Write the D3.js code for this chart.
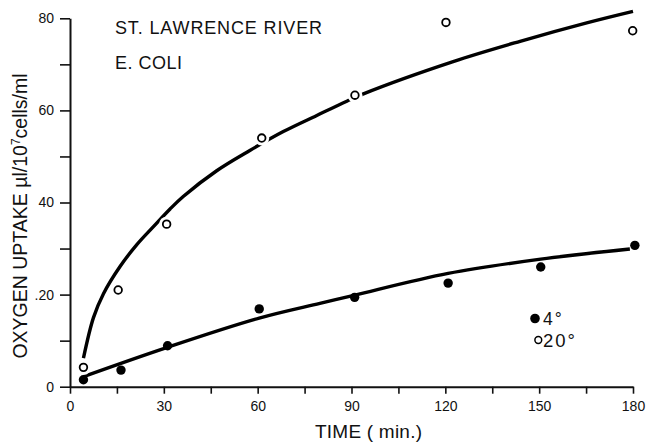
<!DOCTYPE html>
<html>
<head>
<meta charset="utf-8">
<script src="https://cdn.jsdelivr.net/npm/d3@7"></script>
<style>
  body { margin: 0; background: #fff; }
  svg { display: block; font-family: "Liberation Sans", Arial, Helvetica, sans-serif; }
</style>
</head>
<body>
<svg id="chart" width="648" height="444"></svg>
<script>
// ---- data ----
const xTickValues = [0, 15, 30, 45, 60, 75, 90, 105, 120, 135, 150, 165, 180];
const xTickLabels = {0: "0", 30: "30", 60: "60", 90: "90", 120: "120", 150: "150", 180: "180"};
const yTickValues = [0, 10, 20, 30, 40, 50, 60, 70, 80];
const yTickLabels = {0: "0", 20: ".20", 40: "40", 60: "60", 80: "80"};

// 20° observations (open circles)
const warmTime = [4.3, 15.4, 30.9, 61.3, 91.1, 120.2, 179.9];
const warmUptake = [4.2, 21.0, 35.3, 54.0, 63.3, 79.1, 77.3];
// 4° observations (filled circles)
const coldTime = [4.3, 16.3, 31.2, 60.5, 91.0, 120.9, 150.5, 180.6];
const coldUptake = [1.5, 3.6, 8.9, 16.9, 19.4, 22.5, 26.0, 30.7];

// fitted curves
const warmCurveTime = [4.3, 7.5, 10.7, 16.0, 21.3, 26.6, 32.0, 36.2, 46.9, 57.5, 68.2, 78.9, 88.5, 93.8, 122.5, 143.9, 165.2, 180];
const warmCurveUptake = [6.2, 15.0, 20.2, 26.1, 30.8, 34.7, 38.6, 41.3, 46.9, 51.3, 55.4, 58.9, 62.0, 63.6, 70.6, 75.0, 79.0, 81.5];
const coldCurveTime = [4.3, 30.9, 60.5, 79.9, 91.1, 120.9, 150.5, 179.0];
const coldCurveUptake = [2.2, 8.5, 14.9, 18.1, 19.9, 24.6, 27.7, 29.9];

const titleLines = ["ST. LAWRENCE RIVER", "E. COLI"];
const legendLabels = ["4°", "20°"];

// ---- layout ----
const svg = d3.select("#chart");
const x = d3.scaleLinear().domain([0, 180]).range([70, 633]);
const y = d3.scaleLinear().domain([0, 80]).range([386.7, 18.3]);

// axes
const yAxis = d3.axisLeft(y).tickValues(yTickValues)
  .tickFormat(d => yTickLabels[d] || "").tickSize(10).tickSizeOuter(0).tickPadding(6);
const gy = svg.append("g").attr("transform", `translate(${x(0)},0)`).call(yAxis);
gy.select(".domain").attr("stroke", "#111").attr("stroke-width", 2);
gy.selectAll(".tick line").attr("stroke", "#111").attr("stroke-width", 1.6);
gy.selectAll(".tick text").attr("font-size", 14).attr("fill", "#111")
  .attr("font-family", "Liberation Sans, Arial, sans-serif");

const xAxis = d3.axisBottom(x).tickValues(xTickValues)
  .tickFormat(d => xTickLabels[d] || "").tickSize(7).tickSizeOuter(0).tickPadding(7);
const gx = svg.append("g").attr("transform", `translate(0,${y(0)})`).call(xAxis);
gx.select(".domain").attr("stroke", "#111").attr("stroke-width", 2);
gx.selectAll(".tick line").attr("stroke", "#111").attr("stroke-width", 1.6);
gx.selectAll(".tick text").attr("font-size", 14).attr("fill", "#111")
  .attr("font-family", "Liberation Sans, Arial, sans-serif");

// curves
const line = d3.line().x(d => x(d[0])).y(d => y(d[1])).curve(d3.curveCatmullRom.alpha(0.5));
const warmCurve = d3.zip(warmCurveTime, warmCurveUptake);
const coldCurve = d3.zip(coldCurveTime, coldCurveUptake);
svg.append("path").datum(warmCurve).attr("d", line)
  .attr("fill", "none").attr("stroke", "#000").attr("stroke-width", 3.4).attr("stroke-linecap", "butt");
svg.append("path").datum(coldCurve).attr("d", line)
  .attr("fill", "none").attr("stroke", "#000").attr("stroke-width", 3.4).attr("stroke-linecap", "butt");

// markers
const warm = d3.zip(warmTime, warmUptake);
const cold = d3.zip(coldTime, coldUptake);
svg.append("g").selectAll("circle.halo").data(warm).join("circle")
  .attr("cx", d => x(d[0])).attr("cy", d => y(d[1])).attr("r", 7.5).attr("fill", "#fff");
svg.append("g").selectAll("circle.open").data(warm).join("circle")
  .attr("cx", d => x(d[0])).attr("cy", d => y(d[1])).attr("r", 3.8)
  .attr("fill", "#fff").attr("stroke", "#000").attr("stroke-width", 1.8);
svg.append("g").selectAll("circle.fill").data(cold).join("circle")
  .attr("cx", d => x(d[0])).attr("cy", d => y(d[1])).attr("r", 4.7).attr("fill", "#000");

// title
svg.append("text").attr("x", 115).attr("y", 34).attr("font-size", 18)
  .attr("textLength", 207).attr("lengthAdjust", "spacing").attr("fill", "#111").text(titleLines[0]);
svg.append("text").attr("x", 115).attr("y", 69).attr("font-size", 18)
  .attr("textLength", 67).attr("lengthAdjust", "spacing").attr("fill", "#111").text(titleLines[1]);

// legend
svg.append("circle").attr("cx", 535).attr("cy", 318.5).attr("r", 4.8).attr("fill", "#000");
svg.append("text").attr("x", 543).attr("y", 324.5).attr("font-size", 17.5)
  .attr("letter-spacing", 2).attr("fill", "#111").text(legendLabels[0]);
svg.append("circle").attr("cx", 538.3).attr("cy", 340).attr("r", 3.4)
  .attr("fill", "#fff").attr("stroke", "#000").attr("stroke-width", 1.5);
svg.append("text").attr("x", 543).attr("y", 346.5).attr("font-size", 18.5)
  .attr("letter-spacing", 2).attr("fill", "#111").text(legendLabels[1]);

// axis titles
svg.append("text").attr("x", 315).attr("y", 438).attr("font-size", 19)
  .attr("textLength", 107).attr("lengthAdjust", "spacing").attr("fill", "#111").text("TIME ( min.)");

const yl = svg.append("text").attr("transform", "translate(27,216) rotate(-90)")
  .attr("text-anchor", "middle").attr("font-size", 19.5).attr("fill", "#111");
yl.append("tspan").text("OXYGEN UPTAKE µl/10");
yl.append("tspan").attr("dy", -7).attr("font-size", 12).text("7");
yl.append("tspan").attr("dy", 7).text("cells/ml");
</script>
</body>
</html>
